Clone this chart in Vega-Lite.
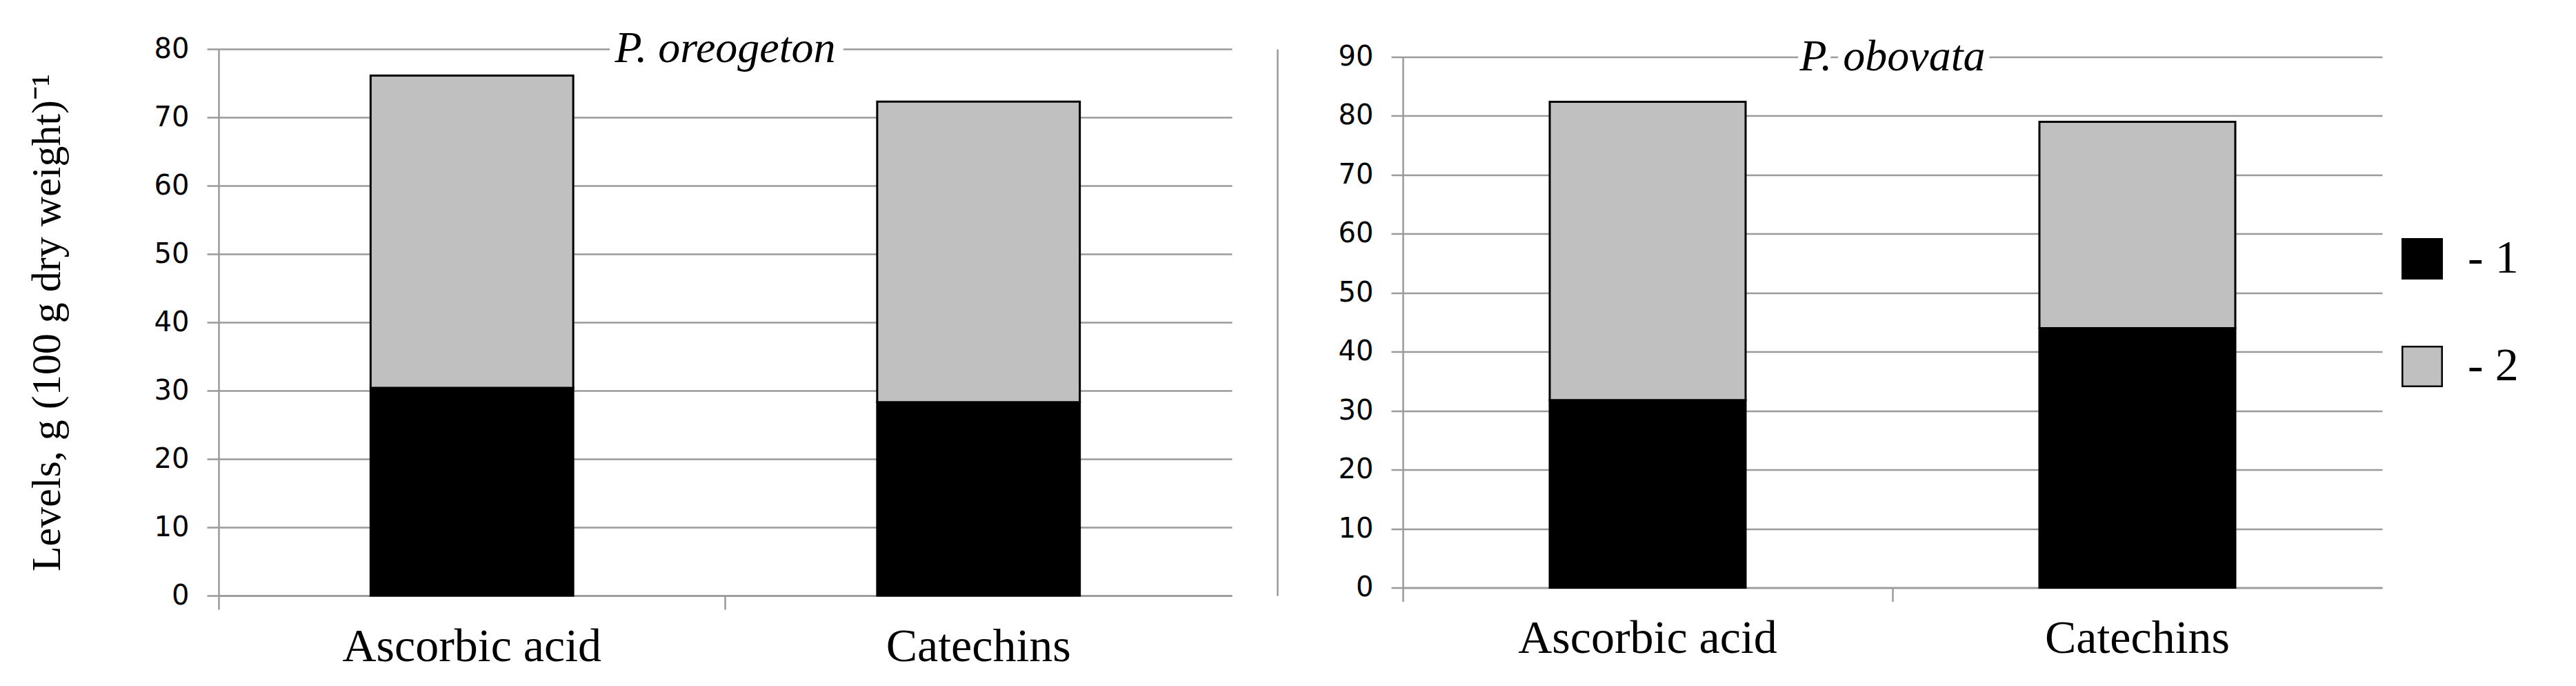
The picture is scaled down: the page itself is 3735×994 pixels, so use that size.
{
  "$schema": "https://vega.github.io/schema/vega-lite/v6.json",
  "background": "white",
  "padding": {"left": 38, "top": 39, "right": 10, "bottom": 5},
  "datasets": {
    "levels": [
      {"species": "P. oreogeton", "compound": "Ascorbic acid", "series": "1", "value": 30.4},
      {"species": "P. oreogeton", "compound": "Ascorbic acid", "series": "2", "value": 45.7},
      {"species": "P. oreogeton", "compound": "Catechins", "series": "1", "value": 28.3},
      {"species": "P. oreogeton", "compound": "Catechins", "series": "2", "value": 44.0},
      {"species": "P. obovata", "compound": "Ascorbic acid", "series": "1", "value": 31.8},
      {"species": "P. obovata", "compound": "Ascorbic acid", "series": "2", "value": 50.6},
      {"species": "P. obovata", "compound": "Catechins", "series": "1", "value": 44.0},
      {"species": "P. obovata", "compound": "Catechins", "series": "2", "value": 35.0}
    ]
  },
  "spacing": 88,
  "center": true,
  "resolve": {"scale": {"y": "independent"}},
  "hconcat": [
    {
      "width": 1469,
      "height": 792,
      "layer": [
        {
          "data": {"name": "levels"},
          "transform": [{"filter": "datum.species === 'P. oreogeton'"}],
          "mark": {"type": "bar", "stroke": "#000000", "strokeWidth": 3},
          "encoding": {
            "x": {
              "field": "compound", "type": "nominal", "sort": null,
              "scale": {"paddingInner": 0.6, "paddingOuter": 0.3},
              "axis": {"title": null, "labelAngle": 0, "labelFont": "Liberation Serif", "labelFontSize": 68, "labelLimit": 0, "labelPadding": 20, "tickSize": 20, "bandPosition": -0.75, "grid": false}
            },
            "y": {
              "field": "value", "type": "quantitative", "stack": "zero",
              "scale": {"domain": [0, 80], "nice": false},
              "axis": {"values": [0, 10, 20, 30, 40, 50, 60, 70, 80], "tickSize": 17, "labelPadding": 26, "labelFont": "DejaVu Sans", "labelFontSize": 40, "title": "Levels, g (100 g dry weight)⁻¹", "titleFont": "Liberation Serif", "titleFontSize": 60, "titleFontWeight": "normal", "titleColor": "#000000", "titlePadding": 124, "titleLimit": 0}
            },
            "color": {
              "field": "series", "type": "nominal",
              "scale": {"domain": ["1", "2"], "range": ["#000000", "#c0c0c0"]},
              "legend": {"title": null, "labelExpr": "'- ' + datum.label"}
            },
            "order": {"field": "series", "type": "ordinal"}
          }
        },
        {
          "data": {"values": [{"species": "P. oreogeton"}]},
          "mark": {"type": "text", "font": "Liberation Serif", "fontStyle": "italic", "fontSize": 64, "fill": "white", "stroke": "white", "strokeWidth": 30, "strokeJoin": "round", "baseline": "middle", "align": "center"},
          "encoding": {
            "x": {"datum": "Catechins", "bandPosition": -0.75},
            "y": {"datum": 80, "axis": {"orient": "right", "offset": 66, "labels": false, "ticks": false, "grid": false, "title": null, "domain": true, "domainColor": "#9a9a9a", "domainWidth": 2.5}},
            "text": {"field": "species"}
          }
        },
        {
          "data": {"values": [{"species": "P. oreogeton"}]},
          "mark": {"type": "text", "font": "Liberation Serif", "fontStyle": "italic", "fontSize": 64, "color": "#000000", "baseline": "middle", "align": "center"},
          "encoding": {
            "x": {"datum": "Catechins", "bandPosition": -0.75},
            "y": {"datum": 80, "axis": null},
            "text": {"field": "species"}
          }
        }
      ],
      "resolve": {"axis": {"y": "independent"}}
    },
    {
      "width": 1420,
      "height": 769,
      "layer": [
        {
          "data": {"name": "levels"},
          "transform": [{"filter": "datum.species === 'P. obovata'"}],
          "mark": {"type": "bar", "stroke": "#000000", "strokeWidth": 3},
          "encoding": {
            "x": {
              "field": "compound", "type": "nominal", "sort": null,
              "scale": {"paddingInner": 0.6, "paddingOuter": 0.3},
              "axis": {"title": null, "labelAngle": 0, "labelFont": "Liberation Serif", "labelFontSize": 68, "labelLimit": 0, "labelPadding": 20, "tickSize": 20, "bandPosition": -0.75, "grid": false}
            },
            "y": {
              "field": "value", "type": "quantitative", "stack": "zero",
              "scale": {"domain": [0, 90], "nice": false},
              "axis": {"values": [0, 10, 20, 30, 40, 50, 60, 70, 80, 90], "tickSize": 17, "labelPadding": 26, "labelFont": "DejaVu Sans", "labelFontSize": 40, "title": null}
            },
            "color": {
              "field": "series", "type": "nominal",
              "scale": {"domain": ["1", "2"], "range": ["#000000", "#c0c0c0"]},
              "legend": {"title": null, "labelExpr": "'- ' + datum.label"}
            },
            "order": {"field": "series", "type": "ordinal"}
          }
        },
        {
          "data": {"values": [{"species": "P. obovata"}]},
          "mark": {"type": "text", "font": "Liberation Serif", "fontStyle": "italic", "fontSize": 64, "fill": "white", "stroke": "white", "strokeWidth": 20, "strokeJoin": "round", "baseline": "middle", "align": "center"},
          "encoding": {
            "x": {"datum": "Catechins", "bandPosition": -0.75},
            "y": {"datum": 90},
            "text": {"field": "species"}
          }
        },
        {
          "data": {"values": [{"species": "P. obovata"}]},
          "mark": {"type": "text", "font": "Liberation Serif", "fontStyle": "italic", "fontSize": 64, "color": "#000000", "baseline": "middle", "align": "center"},
          "encoding": {
            "x": {"datum": "Catechins", "bandPosition": -0.75},
            "y": {"datum": 90},
            "text": {"field": "species"}
          }
        }
      ]
    }
  ],
  "config": {
    "view": {"stroke": null},
    "axis": {
      "gridColor": "#9a9a9a", "gridWidth": 2.5,
      "domainColor": "#9a9a9a", "domainWidth": 2.5,
      "tickColor": "#9a9a9a", "tickWidth": 2.5,
      "labelColor": "#000000"
    },
    "legend": {
      "orient": "none", "legendX": 3161, "legendY": 270,
      "symbolType": "square", "symbolSize": 3300,
      "symbolStrokeColor": "#000000", "symbolStrokeWidth": 2.5,
      "labelFont": "Liberation Serif", "labelFontSize": 68, "labelColor": "#000000",
      "labelOffset": 32, "rowPadding": 88
    }
  }
}
